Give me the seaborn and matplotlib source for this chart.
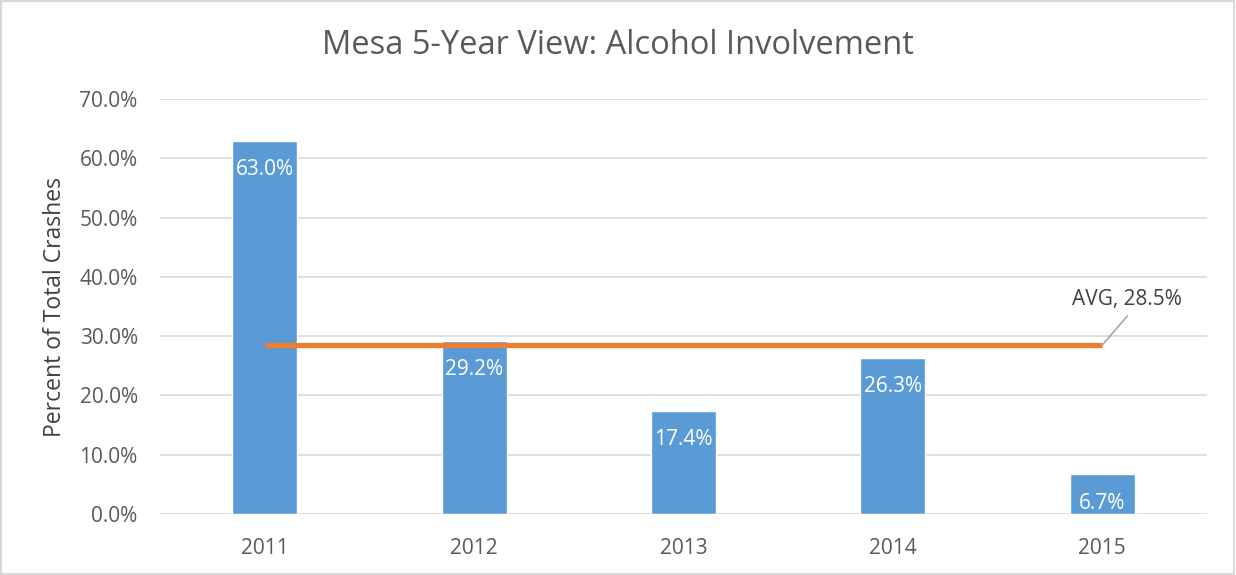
import seaborn as sns
import pandas as pd
import matplotlib.pyplot as plt
from matplotlib.patches import Rectangle

years = ["2011", "2012", "2013", "2014", "2015"]
alcohol_pct = [63.0, 29.2, 17.4, 26.3, 6.7]
avg_pct = 28.5

data = pd.DataFrame({"Year": years, "Pct": alcohol_pct})

sns.set_style("white")
plt.rcParams['font.family'] = ['Open Sans', 'DejaVu Sans']

fig = plt.figure(figsize=(12.36, 5.75), dpi=100)
ax = fig.add_axes([0.1294, 0.1061, 0.8471, 0.7217])

sns.barplot(data=data, x="Year", y="Pct", color="#5B9BD5", width=0.31,
            saturation=1, ax=ax, zorder=3)

# average line across the category centres
last = len(years) - 1
ax.plot([0, last], [avg_pct, avg_pct], color="#ED7D31", lw=3.8,
        solid_capstyle="butt", zorder=4)
# leader line + label
ax.annotate("", xy=(last, avg_pct), xytext=(last + 0.12, avg_pct + 4.9),
            arrowprops=dict(arrowstyle="-", color="#A6A6A6", lw=1.2,
                            shrinkA=0, shrinkB=0), zorder=4)
ax.text(last + 0.12, avg_pct + 6.7, f"AVG, {avg_pct:.1f}%", ha="center",
        va="baseline", fontsize=15, color="#404040")

# value labels inside the bar tops
for i, v in enumerate(alcohol_pct):
    ax.text(i, v - 3.1, f"{v:.1f}%", ha="center", va="top",
            color="white", fontsize=15, zorder=5)

ax.set_ylim(0, 70)
ax.set_xlim(-0.5, len(years) - 0.5)
ax.set_yticks(range(0, 71, 10))
ax.set_yticklabels([f"{t:.1f}%" for t in range(0, 71, 10)])
ax.yaxis.grid(True, color="#D9D9D9", lw=1.2, zorder=0)
ax.set_axisbelow(True)
for s in ax.spines.values():
    s.set_visible(False)
ax.tick_params(axis="both", length=0, labelsize=15, labelcolor="#595959")
ax.tick_params(axis="y", pad=16)
ax.tick_params(axis="x", pad=17)
ax.set_xlabel("")
ax.set_ylabel("Percent of Total Crashes", fontsize=16.5, color="#404040", labelpad=9)

fig.text(0.5, 1 - 45 / 575, "Mesa 5-Year View: Alcohol Involvement", fontsize=23.5,
         color="#595959", ha="center", va="center")

fig.patches.append(Rectangle((0.001, 0.001), 0.997, 0.997, transform=fig.transFigure,
                             fill=False, edgecolor="#D9D9D9", lw=1.5))

fig.savefig("out.png", dpi=100)
